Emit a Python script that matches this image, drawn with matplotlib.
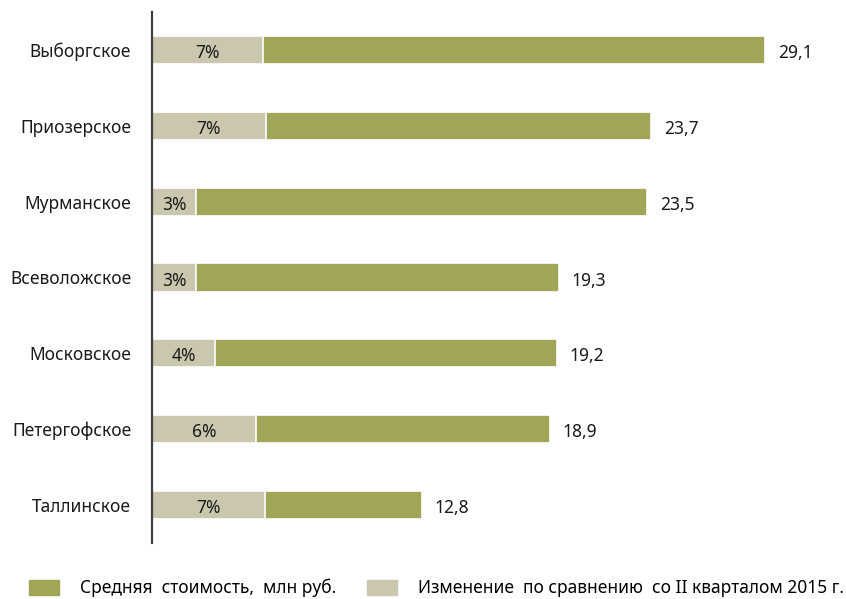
import matplotlib
matplotlib.use('Agg')
import matplotlib.pyplot as plt
from matplotlib.patches import Patch

plt.rcParams['font.family'] = ['Noto Sans', 'DejaVu Sans']

# data
districts = ['Выборгское', 'Приозерское', 'Мурманское', 'Всеволожское',
             'Московское', 'Петергофское', 'Таллинское']
avg_cost = [29.1, 23.7, 23.5, 19.3, 19.2, 18.9, 12.8]
change_pct = [7, 7, 3, 3, 4, 6, 7]
# length of the grey segment on the cost axis, as drawn in the original
change_len = [5.27, 5.41, 2.09, 2.09, 2.99, 4.94, 5.36]

green = '#A0A558'
grey = '#CBC7AE'
fs = 12.5

fig = plt.figure(figsize=(8.46, 5.99), dpi=100)
ax = fig.add_axes([152/846, 56/599, 678/846, 531/599])

y = list(range(len(districts)))
ax.barh(y, avg_cost, height=0.37, color=green, edgecolor='white', linewidth=1.2)
ax.barh(y, change_len, height=0.37, color=grey, edgecolor='white', linewidth=1.2)

for i in y:
    ax.text(avg_cost[i] + 0.6, i + 0.04, f'{avg_cost[i]:.1f}'.replace('.', ','),
            va='center', ha='left', fontsize=fs, color='#1a1a1a')
    ax.text(change_len[i] / 2, i + 0.04, f'{change_pct[i]}%',
            va='center', ha='center', fontsize=fs, color='#1a1a1a')

ax.set_xlim(0, 678/21.07)
ax.set_ylim(6.5, -0.5)
ax.set_yticks(y)
ax.set_yticklabels(districts, fontsize=fs, color='#1a1a1a')
ax.tick_params(axis='y', length=0, pad=15)
ax.set_xticks([])
for s in ['top', 'right', 'bottom']:
    ax.spines[s].set_visible(False)
ax.spines['left'].set_color('#404040')
ax.spines['left'].set_linewidth(1.6)

handles = [Patch(color=green, label='Средняя  стоимость,  млн руб.'),
           Patch(color=grey, label='Изменение  по сравнению  со II кварталом 2015 г.')]
fig.legend(handles=handles, loc='center left', bbox_to_anchor=(29/846, 1 - 588/599),
           ncol=2, frameon=False, fontsize=12.5, handlelength=1.72, handleheight=1.0,
           handletextpad=1.2, columnspacing=1.8, borderpad=0, borderaxespad=0)

fig.savefig('out.png', dpi=100)
